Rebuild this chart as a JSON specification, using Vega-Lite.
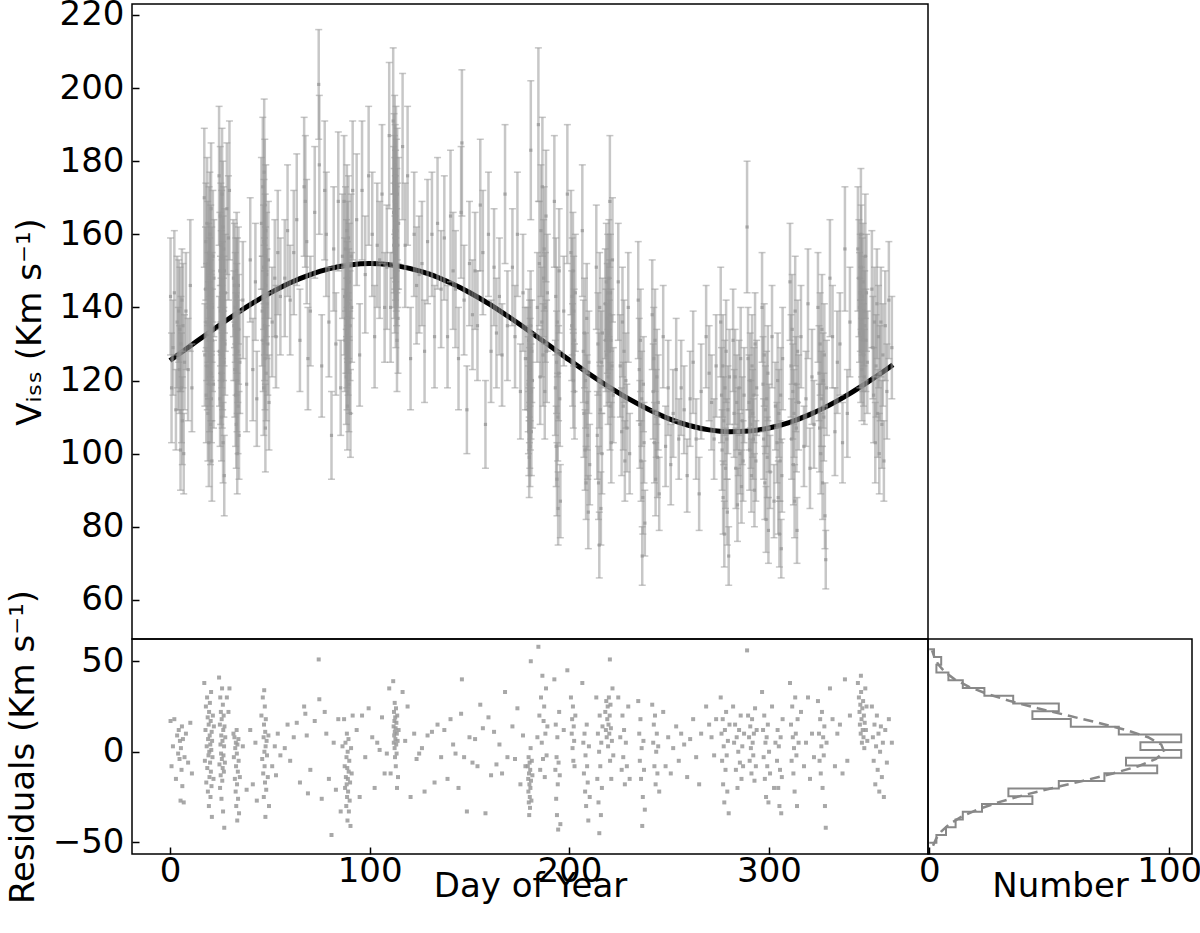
{
"$schema":"https://vega.github.io/schema/vega-lite/v6.json",
"padding":{"left":5,"top":-3,"right":5,"bottom":5},
"bounds":"flush",
"spacing":0,
"config":{
 "font":"DejaVu Sans",
 "view":{"stroke":"black","strokeWidth":1.5},
 "axis":{"labelFont":"DejaVu Sans","titleFont":"DejaVu Sans","labelFontSize":34,"titleFontSize":34,"titleFontWeight":"normal","labelColor":"black","titleColor":"black","tickColor":"black","tickWidth":1.5,"tickSize":-7,"domain":false,"grid":false,"labelFlush":false,"labelOverlap":false}
},
"datasets":{
"obs":[
{"d":0.3,"v":143,"e":16,"r":17},{"d":0.8,"v":118,"e":15,"r":-8},{"d":1.5,"v":129,"e":13,"r":3},{"d":2.2,"v":144,"e":17,"r":18},{"d":3.0,"v":112,"e":11,"r":-15},{"d":3.6,"v":136,"e":18,"r":9},{"d":4.1,"v":126,"e":14,"r":-1},{"d":4.4,"v":139,"e":14,"r":12},{"d":4.8,"v":123,"e":12,"r":-4},{"d":5.0,"v":134,"e":17,"r":6},{"d":5.3,"v":101,"e":11,"r":-27},{"d":5.5,"v":130,"e":13,"r":2},{"d":5.8,"v":118,"e":15,"r":-10},{"d":6.0,"v":142,"e":14,"r":14},{"d":6.2,"v":109,"e":12,"r":-19},{"d":6.5,"v":135,"e":17,"r":7},{"d":6.9,"v":100,"e":11,"r":-28},{"d":7.3,"v":125,"e":13,"r":-3},{"d":8.0,"v":139,"e":16,"r":10},{"d":9.1,"v":123,"e":14,"r":-6},{"d":10.2,"v":146,"e":18,"r":16},{"d":11.0,"v":118,"e":12,"r":-12},
{"d":17.2,"v":170,"e":19,"r":38},{"d":17.5,"v":127,"e":14,"r":-5},{"d":17.8,"v":145,"e":17,"r":12},{"d":18.0,"v":158,"e":16,"r":25},{"d":18.2,"v":116,"e":13,"r":-17},{"d":18.4,"v":136,"e":16,"r":3},{"d":18.6,"v":163,"e":18,"r":30},{"d":18.7,"v":124,"e":12,"r":-9},{"d":18.9,"v":152,"e":17,"r":19},{"d":19.0,"v":111,"e":13,"r":-22},{"d":19.1,"v":140,"e":15,"r":7},{"d":19.3,"v":131,"e":16,"r":-2},{"d":19.4,"v":148,"e":15,"r":15},{"d":19.5,"v":103,"e":12,"r":-30},{"d":19.6,"v":155,"e":18,"r":22},{"d":19.7,"v":133,"e":14,"r":0},{"d":19.8,"v":119,"e":13,"r":-14},{"d":19.9,"v":142,"e":17,"r":9},{"d":20.0,"v":160,"e":17,"r":27},{"d":20.1,"v":127,"e":14,"r":-6},{"d":20.2,"v":137,"e":16,"r":4},{"d":20.3,"v":108,"e":11,"r":-25},{"d":20.4,"v":150,"e":18,"r":17},{"d":20.5,"v":122,"e":13,"r":-11},{"d":20.6,"v":167,"e":18,"r":33},{"d":20.7,"v":135,"e":15,"r":1},{"d":20.8,"v":115,"e":12,"r":-19},{"d":20.9,"v":145,"e":17,"r":11},{"d":21.0,"v":98,"e":11,"r":-36},{"d":21.1,"v":140,"e":15,"r":6},{"d":21.3,"v":131,"e":14,"r":-3},{"d":21.5,"v":154,"e":18,"r":20},{"d":21.8,"v":119,"e":12,"r":-15},{"d":22.0,"v":148,"e":16,"r":14},
{"d":24.6,"v":176,"e":19,"r":41},{"d":24.8,"v":128,"e":15,"r":-7},{"d":25.0,"v":150,"e":16,"r":15},{"d":25.1,"v":115,"e":13,"r":-20},{"d":25.2,"v":165,"e":19,"r":30},{"d":25.3,"v":139,"e":15,"r":4},{"d":25.4,"v":122,"e":14,"r":-13},{"d":25.5,"v":157,"e":17,"r":22},{"d":25.6,"v":134,"e":14,"r":-1},{"d":25.7,"v":144,"e":17,"r":9},{"d":25.8,"v":110,"e":12,"r":-26},{"d":25.9,"v":154,"e":18,"r":18},{"d":26.0,"v":132,"e":14,"r":-4},{"d":26.1,"v":171,"e":18,"r":35},{"d":26.2,"v":120,"e":13,"r":-16},{"d":26.3,"v":142,"e":16,"r":6},{"d":26.4,"v":127,"e":15,"r":-9},{"d":26.5,"v":162,"e":18,"r":26},{"d":26.6,"v":103,"e":11,"r":-33},{"d":26.7,"v":148,"e":17,"r":12},{"d":26.8,"v":134,"e":14,"r":-2},{"d":26.9,"v":156,"e":17,"r":20},{"d":27.0,"v":125,"e":15,"r":-11},{"d":27.1,"v":139,"e":15,"r":3},{"d":27.2,"v":94,"e":11,"r":-42},{"d":27.3,"v":150,"e":17,"r":14},{"d":27.5,"v":130,"e":14,"r":-6},{"d":27.7,"v":144,"e":16,"r":8},
{"d":28.5,"v":167,"e":18,"r":30},{"d":29.3,"v":159,"e":17,"r":22},{"d":29.8,"v":172,"e":19,"r":35},
{"d":31.8,"v":148,"e":16,"r":10},{"d":32.0,"v":135,"e":15,"r":-3},{"d":32.3,"v":146,"e":17,"r":8},{"d":32.5,"v":123,"e":13,"r":-15},{"d":32.7,"v":140,"e":15,"r":2},{"d":32.9,"v":116,"e":14,"r":-22},{"d":33.0,"v":143,"e":16,"r":5},{"d":33.1,"v":130,"e":14,"r":-8},{"d":33.2,"v":108,"e":12,"r":-30},{"d":33.4,"v":150,"e":16,"r":12},{"d":33.5,"v":137,"e":15,"r":-1},{"d":33.6,"v":120,"e":14,"r":-18},{"d":33.7,"v":100,"e":11,"r":-38},{"d":33.8,"v":143,"e":16,"r":4},{"d":34.0,"v":128,"e":14,"r":-11},{"d":34.1,"v":113,"e":13,"r":-26},{"d":34.3,"v":146,"e":16,"r":7},{"d":34.4,"v":134,"e":15,"r":-5},{"d":34.6,"v":105,"e":12,"r":-34},{"d":35.0,"v":125,"e":14,"r":-14},{"d":36.5,"v":142,"e":16,"r":3},{"d":38.4,"v":119,"e":13,"r":-21},
{"d":40.2,"v":153,"e":17,"r":12},{"d":41.5,"v":123,"e":14,"r":-18},{"d":42.8,"v":147,"e":16,"r":5},{"d":43.5,"v":115,"e":13,"r":-27},
{"d":45.8,"v":163,"e":18,"r":20},{"d":46.2,"v":139,"e":15,"r":-4},{"d":46.5,"v":173,"e":19,"r":30},{"d":46.7,"v":131,"e":14,"r":-12},{"d":46.9,"v":151,"e":17,"r":8},{"d":47.0,"v":118,"e":13,"r":-25},{"d":47.1,"v":158,"e":17,"r":15},{"d":47.2,"v":177,"e":20,"r":34},{"d":47.3,"v":143,"e":16,"r":0},{"d":47.4,"v":135,"e":15,"r":-8},{"d":47.5,"v":168,"e":18,"r":25},{"d":47.6,"v":126,"e":14,"r":-17},{"d":47.7,"v":154,"e":17,"r":11},{"d":47.8,"v":107,"e":12,"r":-36},{"d":47.9,"v":146,"e":16,"r":3},{"d":48.0,"v":161,"e":18,"r":18},{"d":48.2,"v":122,"e":13,"r":-21},{"d":48.4,"v":149,"e":17,"r":6},{"d":48.6,"v":141,"e":15,"r":-2},{"d":49.0,"v":130,"e":14,"r":-14},{"d":49.3,"v":153,"e":16,"r":9},{"d":49.6,"v":114,"e":13,"r":-30},
{"d":51.2,"v":136,"e":15,"r":-8},{"d":52.5,"v":148,"e":16,"r":3},{"d":53.1,"v":132,"e":14,"r":-13},{"d":54.0,"v":155,"e":17,"r":10},{"d":55.3,"v":143,"e":16,"r":-2},
{"d":57.5,"v":148,"e":16,"r":2},{"d":58.9,"v":161,"e":18,"r":15},{"d":60.2,"v":142,"e":15,"r":-5},{"d":62.0,"v":155,"e":17,"r":8},{"d":63.5,"v":164,"e":18,"r":16},{"d":65.1,"v":131,"e":14,"r":-17},{"d":67.2,"v":173,"e":19,"r":25},{"d":67.8,"v":169,"e":18,"r":21},{"d":68.5,"v":158,"e":17,"r":9},{"d":69.1,"v":126,"e":14,"r":-23},{"d":70.3,"v":139,"e":15,"r":-10},{"d":72.5,"v":166,"e":18,"r":17},{"d":74.5,"v":201,"e":15,"r":51},{"d":74.8,"v":179,"e":19,"r":29},{"d":76.0,"v":124,"e":14,"r":-26},{"d":77.5,"v":172,"e":19,"r":22},{"d":78.3,"v":160,"e":17,"r":10},{"d":79.6,"v":136,"e":15,"r":-15},{"d":80.9,"v":105,"e":12,"r":-46},{"d":82.0,"v":156,"e":17,"r":5},{"d":83.1,"v":130,"e":14,"r":-21},{"d":84.3,"v":169,"e":19,"r":18},{"d":85.5,"v":118,"e":13,"r":-33},{"d":86.4,"v":154,"e":17,"r":3},
{"d":87.2,"v":169,"e":18,"r":18},{"d":87.5,"v":143,"e":16,"r":-8},{"d":87.7,"v":131,"e":14,"r":-20},{"d":87.9,"v":156,"e":17,"r":5},{"d":88.1,"v":137,"e":15,"r":-14},{"d":88.3,"v":121,"e":13,"r":-30},{"d":88.4,"v":148,"e":16,"r":-3},{"d":88.5,"v":133,"e":15,"r":-18},{"d":88.6,"v":161,"e":18,"r":10},{"d":88.7,"v":126,"e":14,"r":-25},{"d":88.8,"v":142,"e":16,"r":-9},{"d":88.9,"v":113,"e":12,"r":-38},{"d":89.0,"v":152,"e":17,"r":0},{"d":89.1,"v":137,"e":15,"r":-15},{"d":89.2,"v":130,"e":14,"r":-22},{"d":89.4,"v":159,"e":17,"r":7},{"d":89.5,"v":141,"e":15,"r":-11},{"d":89.6,"v":119,"e":13,"r":-33},{"d":89.8,"v":147,"e":16,"r":-5},{"d":90.0,"v":125,"e":14,"r":-27},{"d":90.2,"v":135,"e":15,"r":-17},{"d":90.4,"v":111,"e":12,"r":-41},{"d":90.7,"v":154,"e":17,"r":2},{"d":91.0,"v":140,"e":15,"r":-12},{"d":91.5,"v":172,"e":19,"r":20},
{"d":93.5,"v":164,"e":18,"r":12},{"d":95.0,"v":127,"e":14,"r":-25},{"d":96.2,"v":172,"e":19,"r":20},{"d":97.8,"v":149,"e":16,"r":-3},{"d":99.5,"v":176,"e":19,"r":24},{"d":101.3,"v":160,"e":17,"r":8},{"d":102.5,"v":132,"e":14,"r":-20},{"d":103.8,"v":157,"e":17,"r":5},{"d":105.0,"v":153,"e":16,"r":1},{"d":106.2,"v":171,"e":19,"r":19},{"d":107.5,"v":140,"e":15,"r":-12},{"d":108.6,"v":151,"e":17,"r":-1},{"d":109.8,"v":187,"e":20,"r":35},{"d":110.5,"v":140,"e":15,"r":-12},
{"d":111.8,"v":191,"e":20,"r":39},{"d":112.0,"v":166,"e":18,"r":14},{"d":112.1,"v":157,"e":17,"r":5},{"d":112.2,"v":174,"e":19,"r":22},{"d":112.3,"v":161,"e":17,"r":9},{"d":112.4,"v":169,"e":18,"r":17},{"d":112.5,"v":154,"e":17,"r":2},{"d":112.55,"v":179,"e":19,"r":27},{"d":112.6,"v":163,"e":18,"r":11},{"d":112.7,"v":149,"e":16,"r":-3},{"d":112.8,"v":171,"e":19,"r":19},{"d":112.9,"v":159,"e":17,"r":7},{"d":113.0,"v":165,"e":18,"r":13},{"d":113.1,"v":144,"e":15,"r":-8},{"d":113.2,"v":176,"e":19,"r":24},{"d":113.3,"v":156,"e":17,"r":4},{"d":113.4,"v":168,"e":18,"r":16},{"d":113.5,"v":151,"e":16,"r":-1},{"d":113.6,"v":161,"e":17,"r":10},{"d":113.7,"v":131,"e":14,"r":-20},{"d":113.8,"v":171,"e":18,"r":20},{"d":114.0,"v":157,"e":17,"r":6},{"d":114.2,"v":137,"e":15,"r":-14},{"d":114.5,"v":163,"e":18,"r":12},
{"d":116.5,"v":184,"e":20,"r":33},{"d":117.8,"v":157,"e":17,"r":6},{"d":119.0,"v":176,"e":19,"r":25},{"d":120.5,"v":126,"e":14,"r":-25},{"d":122.3,"v":160,"e":17,"r":10},{"d":123.5,"v":146,"e":16,"r":-4},{"d":124.8,"v":149,"e":16,"r":-1},{"d":126.2,"v":152,"e":17,"r":2},{"d":127.5,"v":128,"e":14,"r":-22},{"d":129.0,"v":158,"e":17,"r":9},{"d":131.2,"v":160,"e":17,"r":11},{"d":132.5,"v":132,"e":14,"r":-17},{"d":134.0,"v":163,"e":18,"r":15},{"d":135.8,"v":145,"e":16,"r":-3},{"d":137.4,"v":159,"e":17,"r":12},{"d":139.0,"v":132,"e":14,"r":-15},{"d":140.5,"v":165,"e":18,"r":18},{"d":141.8,"v":150,"e":16,"r":4},{"d":143.0,"v":145,"e":16,"r":-1},{"d":144.5,"v":126,"e":14,"r":-20},{"d":145.8,"v":166,"e":18,"r":21},{"d":146.2,"v":185,"e":20,"r":40},{"d":147.3,"v":142,"e":15,"r":-3},{"d":148.7,"v":112,"e":12,"r":-33},{"d":150.0,"v":152,"e":17,"r":8},{"d":151.5,"v":138,"e":15,"r":-6},{"d":152.8,"v":150,"e":16,"r":7},{"d":154.0,"v":135,"e":15,"r":-8},{"d":155.4,"v":168,"e":18,"r":26},{"d":156.7,"v":155,"e":17,"r":13},{"d":158.0,"v":108,"e":12,"r":-34},{"d":159.5,"v":160,"e":17,"r":19},{"d":160.8,"v":128,"e":14,"r":-13},{"d":162.3,"v":151,"e":16,"r":11},{"d":163.5,"v":133,"e":15,"r":-7},{"d":165.0,"v":143,"e":16,"r":4},{"d":166.3,"v":127,"e":14,"r":-12},{"d":167.8,"v":171,"e":19,"r":33},{"d":169.0,"v":135,"e":15,"r":-3},
{"d":171.5,"v":151,"e":16,"r":14},{"d":172.8,"v":132,"e":14,"r":-4},{"d":174.0,"v":160,"e":17,"r":24},{"d":175.5,"v":117,"e":13,"r":-18},{"d":176.8,"v":144,"e":16,"r":9},{"d":178.0,"v":126,"e":14,"r":-8},{"d":179.2,"v":126,"e":14,"r":-8},{"d":179.4,"v":119,"e":13,"r":-15},{"d":179.5,"v":112,"e":12,"r":-22},{"d":179.6,"v":131,"e":14,"r":-3},{"d":179.7,"v":106,"e":12,"r":-28},{"d":179.8,"v":122,"e":13,"r":-12},{"d":179.9,"v":99,"e":11,"r":-35},{"d":180.0,"v":116,"e":13,"r":-18},{"d":180.1,"v":128,"e":14,"r":-6},{"d":180.2,"v":108,"e":12,"r":-25},{"d":180.3,"v":102,"e":11,"r":-31},{"d":180.4,"v":123,"e":14,"r":-10},{"d":180.5,"v":113,"e":12,"r":-20},{"d":180.6,"v":135,"e":15,"r":2},{"d":180.7,"v":183,"e":19,"r":50},{"d":180.8,"v":117,"e":13,"r":-16},{"d":181.0,"v":106,"e":12,"r":-27},{"d":181.2,"v":128,"e":14,"r":-5},{"d":181.5,"v":120,"e":13,"r":-13},
{"d":184.0,"v":140,"e":15,"r":8},{"d":184.5,"v":190,"e":21,"r":58},{"d":185.0,"v":152,"e":17,"r":20},{"d":185.4,"v":121,"e":13,"r":-10},{"d":185.8,"v":161,"e":18,"r":30},{"d":186.2,"v":136,"e":15,"r":5},{"d":186.5,"v":173,"e":19,"r":42},{"d":186.8,"v":127,"e":14,"r":-4},{"d":187.1,"v":148,"e":16,"r":17},{"d":187.4,"v":156,"e":17,"r":25},{"d":187.7,"v":117,"e":13,"r":-14},{"d":188.0,"v":140,"e":15,"r":10},{"d":188.3,"v":165,"e":18,"r":35},{"d":188.6,"v":128,"e":14,"r":-2},{"d":189.0,"v":144,"e":16,"r":14},
{"d":192.5,"v":169,"e":18,"r":40},{"d":193.0,"v":118,"e":13,"r":-10},{"d":193.2,"v":143,"e":16,"r":15},{"d":193.4,"v":102,"e":11,"r":-26},{"d":193.6,"v":125,"e":14,"r":-3},{"d":193.8,"v":93,"e":10,"r":-35},{"d":194.0,"v":136,"e":15,"r":8},{"d":194.2,"v":110,"e":12,"r":-18},{"d":194.4,"v":85,"e":10,"r":-43},{"d":194.6,"v":122,"e":13,"r":-6},{"d":194.9,"v":150,"e":17,"r":22},{"d":195.2,"v":115,"e":13,"r":-13},{"d":195.5,"v":87,"e":10,"r":-40},{"d":197.2,"v":139,"e":15,"r":12},{"d":199.0,"v":171,"e":19,"r":45},
{"d":200.8,"v":155,"e":17,"r":30},{"d":201.2,"v":135,"e":15,"r":10},{"d":201.4,"v":143,"e":16,"r":18},{"d":201.6,"v":127,"e":14,"r":2},{"d":201.8,"v":150,"e":16,"r":25},{"d":202.0,"v":120,"e":13,"r":-5},{"d":202.2,"v":139,"e":15,"r":14},{"d":202.4,"v":131,"e":14,"r":6},{"d":202.6,"v":117,"e":13,"r":-8},{"d":203.0,"v":144,"e":16,"r":20},
{"d":206.5,"v":161,"e":18,"r":38},{"d":207.0,"v":128,"e":14,"r":5},{"d":207.3,"v":111,"e":12,"r":-12},{"d":207.6,"v":133,"e":15,"r":10},{"d":207.9,"v":101,"e":11,"r":-22},{"d":208.1,"v":120,"e":13,"r":-2},{"d":208.4,"v":92,"e":10,"r":-30},{"d":208.7,"v":137,"e":15,"r":15},{"d":208.9,"v":114,"e":13,"r":-8},{"d":209.2,"v":105,"e":12,"r":-17},{"d":209.5,"v":84,"e":10,"r":-38},{"d":209.8,"v":125,"e":14,"r":3},{"d":210.2,"v":97,"e":11,"r":-25},
{"d":213.5,"v":151,"e":17,"r":30},{"d":214.0,"v":105,"e":12,"r":-15},{"d":214.3,"v":130,"e":14,"r":10},{"d":214.6,"v":92,"e":10,"r":-28},{"d":214.9,"v":120,"e":13,"r":0},{"d":215.0,"v":75,"e":9,"r":-45},{"d":215.2,"v":140,"e":15,"r":20},{"d":215.5,"v":112,"e":12,"r":-8},{"d":215.8,"v":85,"e":10,"r":-35},{"d":216.0,"v":125,"e":14,"r":5},{"d":216.3,"v":100,"e":11,"r":-20},{"d":216.6,"v":133,"e":15,"r":14},
{"d":218.0,"v":141,"e":15,"r":22},{"d":218.3,"v":131,"e":14,"r":12},{"d":218.5,"v":147,"e":16,"r":28},{"d":218.7,"v":127,"e":14,"r":8},{"d":219.0,"v":137,"e":15,"r":18},{"d":219.2,"v":144,"e":16,"r":25},{"d":219.4,"v":121,"e":13,"r":3},{"d":219.6,"v":133,"e":15,"r":15},{"d":219.8,"v":148,"e":16,"r":30},{"d":220.0,"v":128,"e":14,"r":10},{"d":220.2,"v":138,"e":15,"r":20},{"d":220.3,"v":169,"e":18,"r":51},{"d":220.4,"v":113,"e":12,"r":-5},{"d":220.6,"v":144,"e":16,"r":26},{"d":220.8,"v":131,"e":14,"r":13},{"d":221.0,"v":103,"e":11,"r":-15},{"d":221.3,"v":124,"e":14,"r":6},{"d":221.6,"v":153,"e":17,"r":35},{"d":222.0,"v":116,"e":13,"r":-2},
{"d":224.5,"v":147,"e":16,"r":30},{"d":225.5,"v":124,"e":14,"r":8},{"d":226.2,"v":106,"e":12,"r":-10},{"d":226.6,"v":136,"e":15,"r":20},{"d":227.0,"v":113,"e":12,"r":-3},{"d":227.4,"v":128,"e":14,"r":12},{"d":227.8,"v":98,"e":11,"r":-18},{"d":228.3,"v":120,"e":13,"r":5},{"d":228.8,"v":107,"e":12,"r":-8},{"d":229.5,"v":140,"e":15,"r":25},{"d":230.2,"v":100,"e":11,"r":-15},
{"d":234.5,"v":142,"e":16,"r":28},{"d":235.0,"v":123,"e":14,"r":10},{"d":235.3,"v":108,"e":12,"r":-5},{"d":235.6,"v":131,"e":14,"r":18},{"d":235.9,"v":98,"e":11,"r":-15},{"d":236.2,"v":115,"e":13,"r":2},{"d":236.5,"v":72,"e":8,"r":-41},{"d":236.8,"v":88,"e":10,"r":-25},{"d":237.1,"v":119,"e":13,"r":6},{"d":237.4,"v":103,"e":11,"r":-10},{"d":237.8,"v":81,"e":9,"r":-32},
{"d":241.5,"v":138,"e":15,"r":26},{"d":242.0,"v":117,"e":13,"r":5},{"d":242.3,"v":126,"e":14,"r":15},{"d":242.6,"v":103,"e":11,"r":-8},{"d":242.9,"v":131,"e":14,"r":20},{"d":243.2,"v":93,"e":10,"r":-18},{"d":243.5,"v":111,"e":12,"r":0},{"d":243.8,"v":121,"e":13,"r":10},{"d":244.1,"v":99,"e":11,"r":-12},{"d":244.5,"v":114,"e":13,"r":3},{"d":245.0,"v":89,"e":10,"r":-22},
{"d":247.0,"v":132,"e":14,"r":22},{"d":248.2,"v":102,"e":11,"r":-8},{"d":249.5,"v":118,"e":13,"r":8},{"d":250.8,"v":97,"e":11,"r":-12},{"d":252.0,"v":111,"e":12,"r":2},{"d":253.5,"v":123,"e":14,"r":14},{"d":254.8,"v":104,"e":11,"r":-5},{"d":256.0,"v":118,"e":13,"r":10},{"d":257.5,"v":112,"e":12,"r":4},{"d":259.0,"v":94,"e":10,"r":-14},{"d":260.5,"v":115,"e":13,"r":7},{"d":262.0,"v":125,"e":14,"r":18},{"d":263.5,"v":104,"e":11,"r":-3},{"d":265.0,"v":89,"e":10,"r":-18},{"d":266.0,"v":117,"e":13,"r":10},
{"d":268.5,"v":132,"e":14,"r":25},{"d":270.0,"v":122,"e":13,"r":15},{"d":271.2,"v":114,"e":13,"r":8},{"d":272.5,"v":104,"e":11,"r":-2},{"d":273.5,"v":124,"e":14,"r":18},
{"d":275.8,"v":136,"e":15,"r":30},{"d":276.2,"v":116,"e":13,"r":10},{"d":276.5,"v":101,"e":11,"r":-5},{"d":276.8,"v":124,"e":14,"r":18},{"d":277.0,"v":88,"e":10,"r":-18},{"d":277.3,"v":109,"e":12,"r":3},{"d":277.6,"v":78,"e":9,"r":-28},{"d":277.9,"v":118,"e":13,"r":12},{"d":278.2,"v":96,"e":11,"r":-10},{"d":278.5,"v":128,"e":14,"r":22},{"d":278.8,"v":104,"e":11,"r":-2},{"d":279.1,"v":84,"e":9,"r":-22},{"d":279.4,"v":112,"e":12,"r":6},{"d":279.8,"v":72,"e":8,"r":-34},{"d":280.2,"v":121,"e":13,"r":15},
{"d":282.0,"v":131,"e":14,"r":25},{"d":282.5,"v":111,"e":12,"r":5},{"d":283.0,"v":121,"e":13,"r":15},{"d":283.4,"v":96,"e":11,"r":-10},{"d":283.8,"v":114,"e":13,"r":8},{"d":284.2,"v":86,"e":10,"r":-20},{"d":284.6,"v":106,"e":12,"r":0},{"d":285.0,"v":118,"e":13,"r":12},{"d":285.4,"v":100,"e":11,"r":-6},{"d":285.8,"v":126,"e":14,"r":20},{"d":286.2,"v":91,"e":10,"r":-15},{"d":286.6,"v":109,"e":12,"r":3},{"d":287.0,"v":98,"e":11,"r":-8},{"d":287.5,"v":116,"e":13,"r":10},
{"d":289.0,"v":162,"e":18,"r":56},{"d":289.5,"v":126,"e":14,"r":20},{"d":290.0,"v":114,"e":13,"r":8},{"d":290.3,"v":101,"e":11,"r":-5},{"d":290.6,"v":120,"e":13,"r":14},{"d":290.9,"v":108,"e":12,"r":2},{"d":291.2,"v":94,"e":10,"r":-12},{"d":291.5,"v":124,"e":14,"r":18},{"d":291.8,"v":111,"e":12,"r":5},{"d":292.1,"v":104,"e":11,"r":-2},{"d":292.4,"v":116,"e":13,"r":10},{"d":292.7,"v":90,"e":10,"r":-16},{"d":293.0,"v":130,"e":14,"r":24},{"d":293.4,"v":98,"e":11,"r":-8},{"d":293.8,"v":118,"e":13,"r":12},
{"d":296.5,"v":140,"e":15,"r":33},{"d":297.0,"v":119,"e":13,"r":12},{"d":297.3,"v":104,"e":11,"r":-3},{"d":297.6,"v":127,"e":14,"r":20},{"d":297.9,"v":92,"e":10,"r":-15},{"d":298.2,"v":112,"e":12,"r":5},{"d":298.5,"v":82,"e":9,"r":-25},{"d":298.8,"v":115,"e":13,"r":8},{"d":299.1,"v":99,"e":11,"r":-8},{"d":299.4,"v":122,"e":13,"r":15},{"d":299.7,"v":79,"e":9,"r":-28},{"d":300.0,"v":107,"e":12,"r":0},{"d":300.5,"v":95,"e":10,"r":-12},
{"d":301.5,"v":132,"e":14,"r":25},{"d":302.5,"v":87,"e":10,"r":-20},{"d":303.2,"v":113,"e":12,"r":5},
{"d":304.0,"v":103,"e":11,"r":-5},{"d":304.3,"v":120,"e":13,"r":12},{"d":304.6,"v":88,"e":10,"r":-20},{"d":304.9,"v":111,"e":12,"r":3},{"d":305.2,"v":78,"e":9,"r":-30},{"d":305.5,"v":98,"e":11,"r":-10},{"d":305.8,"v":116,"e":13,"r":8},{"d":306.1,"v":74,"e":8,"r":-34},{"d":306.4,"v":94,"e":10,"r":-14},{"d":306.8,"v":126,"e":14,"r":18},
{"d":310.5,"v":147,"e":16,"r":38},{"d":311.0,"v":124,"e":14,"r":15},{"d":311.3,"v":104,"e":11,"r":-5},{"d":311.6,"v":134,"e":15,"r":25},{"d":311.9,"v":117,"e":13,"r":8},{"d":312.2,"v":97,"e":11,"r":-12},{"d":312.5,"v":111,"e":12,"r":2},{"d":312.8,"v":87,"e":10,"r":-22},{"d":313.1,"v":139,"e":15,"r":30},{"d":313.4,"v":119,"e":13,"r":10},{"d":313.7,"v":107,"e":12,"r":-2},{"d":314.0,"v":79,"e":9,"r":-30},{"d":314.3,"v":128,"e":14,"r":18},{"d":314.8,"v":114,"e":13,"r":5},
{"d":316.0,"v":132,"e":14,"r":22},{"d":317.5,"v":102,"e":11,"r":-8},{"d":318.5,"v":115,"e":13,"r":5},{"d":319.5,"v":141,"e":15,"r":30},{"d":320.5,"v":96,"e":11,"r":-15},{"d":321.5,"v":121,"e":13,"r":10},{"d":322.5,"v":108,"e":12,"r":-3},
{"d":324.5,"v":140,"e":15,"r":28},{"d":325.0,"v":122,"e":13,"r":10},{"d":325.3,"v":107,"e":12,"r":-5},{"d":325.6,"v":130,"e":14,"r":18},{"d":325.9,"v":100,"e":11,"r":-12},{"d":326.2,"v":115,"e":13,"r":3},{"d":326.5,"v":134,"e":15,"r":22},{"d":326.8,"v":92,"e":10,"r":-20},{"d":327.1,"v":120,"e":13,"r":8},{"d":327.4,"v":110,"e":12,"r":-2},{"d":327.7,"v":127,"e":14,"r":14},{"d":328.0,"v":83,"e":9,"r":-30},{"d":328.4,"v":71,"e":8,"r":-42},{"d":328.8,"v":118,"e":13,"r":5},
{"d":330.5,"v":148,"e":16,"r":35},{"d":331.8,"v":132,"e":14,"r":18},{"d":333.0,"v":106,"e":12,"r":-8},{"d":334.2,"v":125,"e":14,"r":10},{"d":335.5,"v":130,"e":14,"r":15},{"d":336.8,"v":103,"e":11,"r":-12},{"d":338.0,"v":156,"e":17,"r":40},{"d":339.2,"v":111,"e":12,"r":-5},{"d":340.5,"v":136,"e":15,"r":20},
{"d":344.5,"v":156,"e":17,"r":38},{"d":345.0,"v":148,"e":16,"r":30},{"d":345.3,"v":140,"e":15,"r":22},{"d":345.5,"v":133,"e":15,"r":15},{"d":345.7,"v":144,"e":16,"r":26},{"d":345.9,"v":128,"e":14,"r":10},{"d":346.0,"v":160,"e":18,"r":42},{"d":346.1,"v":151,"e":17,"r":33},{"d":346.3,"v":136,"e":15,"r":18},{"d":346.5,"v":123,"e":14,"r":5},{"d":346.7,"v":143,"e":16,"r":24},{"d":346.9,"v":131,"e":14,"r":12},{"d":347.1,"v":147,"e":16,"r":28},{"d":347.3,"v":127,"e":14,"r":8},{"d":347.5,"v":139,"e":15,"r":20},{"d":347.7,"v":121,"e":13,"r":2},{"d":347.9,"v":135,"e":15,"r":16},{"d":348.2,"v":154,"e":17,"r":35},{"d":348.5,"v":131,"e":14,"r":12},{"d":348.8,"v":144,"e":16,"r":25},{"d":349.2,"v":125,"e":14,"r":6},
{"d":351.5,"v":145,"e":16,"r":25},{"d":352.0,"v":129,"e":14,"r":8},{"d":352.4,"v":116,"e":13,"r":-5},{"d":352.8,"v":136,"e":15,"r":15},{"d":353.2,"v":103,"e":11,"r":-18},{"d":353.6,"v":124,"e":14,"r":3},{"d":354.0,"v":141,"e":15,"r":20},{"d":354.4,"v":111,"e":12,"r":-10},{"d":354.8,"v":132,"e":14,"r":10},{"d":355.2,"v":100,"e":11,"r":-22},{"d":355.6,"v":122,"e":13,"r":0},{"d":356.0,"v":136,"e":15,"r":14},{"d":356.5,"v":108,"e":12,"r":-14},{"d":357.0,"v":127,"e":14,"r":5},{"d":357.5,"v":98,"e":11,"r":-25},{"d":358.2,"v":135,"e":15,"r":12},{"d":359.0,"v":117,"e":13,"r":-6},{"d":360.0,"v":142,"e":16,"r":18},{"d":361.5,"v":129,"e":14,"r":5}
],
"model":[
{"d":0,"m":125.5},{"d":10,"m":129.4},{"d":20,"m":133.3},{"d":30,"m":137.1},{"d":40,"m":140.7},{"d":50,"m":143.9},{"d":60,"m":146.7},{"d":70,"m":148.9},{"d":80,"m":150.6},{"d":90,"m":151.6},{"d":100,"m":152.0},{"d":110,"m":151.7},{"d":120,"m":150.7},{"d":130,"m":149.1},{"d":140,"m":146.8},{"d":150,"m":144.1},{"d":160,"m":140.9},{"d":170,"m":137.3},{"d":180,"m":133.5},{"d":190,"m":129.6},{"d":200,"m":125.6},{"d":210,"m":121.8},{"d":220,"m":118.2},{"d":230,"m":114.9},{"d":240,"m":112.0},{"d":250,"m":109.5},{"d":260,"m":107.7},{"d":270,"m":106.5},{"d":280,"m":106.0},{"d":290,"m":106.2},{"d":300,"m":107.0},{"d":310,"m":108.5},{"d":320,"m":110.6},{"d":330,"m":113.2},{"d":340,"m":116.3},{"d":350,"m":119.8},{"d":360,"m":123.5},{"d":362,"m":124.3}
],
"hist":[
{"k":0,"edge":56.6,"n":0},{"k":1,"edge":56.6,"n":2},{"k":2,"edge":52.32,"n":5},{"k":3,"edge":48.05,"n":3},{"k":4,"edge":43.77,"n":8},{"k":5,"edge":39.5,"n":14},{"k":6,"edge":35.22,"n":23},{"k":7,"edge":30.94,"n":35},{"k":8,"edge":26.67,"n":54},{"k":9,"edge":22.39,"n":43},{"k":10,"edge":18.12,"n":59},{"k":11,"edge":13.84,"n":79},{"k":12,"edge":9.56,"n":105},{"k":13,"edge":5.29,"n":88},{"k":14,"edge":1.01,"n":105},{"k":15,"edge":-3.27,"n":82},{"k":16,"edge":-7.54,"n":95},{"k":17,"edge":-11.82,"n":73},{"k":18,"edge":-16.1,"n":54},{"k":19,"edge":-20.37,"n":33},{"k":20,"edge":-24.65,"n":43},{"k":21,"edge":-28.92,"n":22},{"k":22,"edge":-33.2,"n":14},{"k":23,"edge":-37.48,"n":11},{"k":24,"edge":-41.75,"n":7},{"k":25,"edge":-46.03,"n":3},{"k":26,"edge":-50.3,"n":0}
],
"gauss":[
{"r":-52,"n":1.6},{"r":-48,"n":2.9},{"r":-44,"n":5.1},{"r":-40,"n":8.4},{"r":-36,"n":13.3},{"r":-32,"n":20.0},{"r":-28,"n":28.7},{"r":-24,"n":39.3},{"r":-20,"n":51.5},{"r":-16,"n":64.3},{"r":-12,"n":76.6},{"r":-8,"n":87.1},{"r":-4,"n":94.5},{"r":0,"n":97.9},{"r":4,"n":96.7},{"r":8,"n":91.2},{"r":12,"n":82.1},{"r":16,"n":70.5},{"r":20,"n":57.8},{"r":24,"n":45.2},{"r":28,"n":33.8},{"r":32,"n":24.1},{"r":36,"n":16.4},{"r":40,"n":10.6},{"r":44,"n":6.6},{"r":48,"n":3.9},{"r":52,"n":2.2},{"r":56,"n":1.2}
]
},
"vconcat":[
{
 "width":796,"height":635,
 "layer":[
  {"data":{"name":"model"},"mark":{"type":"line","color":"black","strokeWidth":5,"interpolate":"monotone"},
   "encoding":{"x":{"field":"d","type":"quantitative","scale":{"domain":[-19,379.6],"nice":false,"zero":false},"axis":null},
               "y":{"field":"m","type":"quantitative","title":"Vᵢₛₛ (Km s⁻¹)","scale":{"domain":[49.3,223],"nice":false,"zero":false},
                    "axis":{"values":[60,80,100,120,140,160,180,200,220],"labelPadding":15,"titlePadding":12}}}},
  {"data":{"name":"obs"},"mark":{"type":"errorbar","ticks":{"size":7,"thickness":1.5},"rule":{"strokeWidth":2.5},"color":"#999999","opacity":0.55},
   "encoding":{"x":{"field":"d","type":"quantitative"},"y":{"field":"v","type":"quantitative","title":"Vᵢₛₛ (Km s⁻¹)"},"yError":{"field":"e"}}},
  {"data":{"name":"obs"},"mark":{"type":"square","size":10,"color":"#999999","opacity":0.8},
   "encoding":{"x":{"field":"d","type":"quantitative"},"y":{"field":"v","type":"quantitative","title":"Vᵢₛₛ (Km s⁻¹)"}}}
 ]
},
{
 "hconcat":[
  {"width":796,"height":215,
   "data":{"name":"obs"},
   "mark":{"type":"square","size":16,"color":"#999999","opacity":0.85},
   "encoding":{"x":{"field":"d","type":"quantitative","scale":{"domain":[-19,379.6],"nice":false,"zero":false},
                    "axis":{"title":"Day of Year","values":[0,100,200,300],"labelPadding":7,"titlePadding":-19}},
               "y":{"field":"r","type":"quantitative","scale":{"domain":[-56.5,62.3],"nice":false,"zero":false},
                    "axis":{"title":"Residuals (Km s⁻¹)","values":[-50,0,50],"labelPadding":15,"titlePadding":12}}}},
  {"width":264,"height":215,
   "layer":[
    {"data":{"name":"hist"},"mark":{"type":"line","color":"#888888","strokeWidth":2,"interpolate":"step-before"},
     "encoding":{"x":{"field":"n","type":"quantitative","title":"Number","scale":{"domain":[-0.5,109.5],"nice":false,"zero":false},
                      "axis":{"values":[0,100],"labelPadding":7,"titlePadding":-19}},
                 "y":{"field":"edge","type":"quantitative","scale":{"domain":[-56.5,62.3],"nice":false,"zero":false},"axis":null},
                 "order":{"field":"k","type":"quantitative"}}},
    {"data":{"name":"gauss"},"mark":{"type":"line","color":"#888888","strokeWidth":2.5,"strokeDash":[10,6]},
     "encoding":{"x":{"field":"n","type":"quantitative","title":"Number"},"y":{"field":"r","type":"quantitative"},
                 "order":{"field":"r","type":"quantitative"}}}
   ]}
 ],
 "spacing":0,
 "bounds":"flush"
}
]
}
